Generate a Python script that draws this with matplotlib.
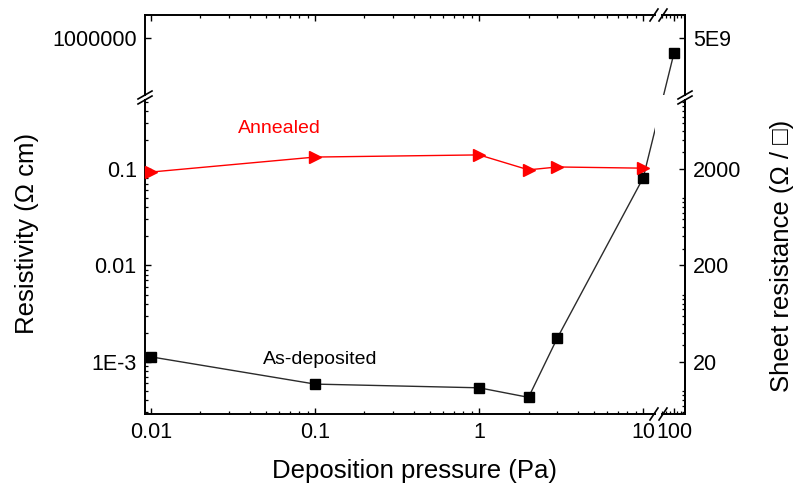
import numpy as np
import matplotlib
matplotlib.use("Agg")
import matplotlib.pyplot as plt
from matplotlib.lines import Line2D
from matplotlib.ticker import LogLocator, NullLocator, NullFormatter

# ── DATA ──────────────────────────────────────────────────────────────────────

pressure = [0.01, 0.1, 1, 2, 3, 10, 100]                      # Pa
rho_as_dep = [1.13e-3, 5.9e-4, 5.4e-4, 4.3e-4, 1.78e-3, 0.081, 7.0e5]
pressure_ann = [0.01, 0.1, 1, 2, 3, 10]
rho_ann = [0.093, 0.133, 0.14, 0.098, 0.105, 0.102]

x_ticks_main = [0.01, 0.1, 1, 10]
x_labels_main = ["0.01", "0.1", "1", "10"]
x_ticks_far = [100]
x_labels_far = ["100"]
y_ticks_low = [1e-3, 1e-2, 1e-1]
y_labels_low = ["1E-3", "0.01", "0.1"]
y_ticks_high = [1e6]
y_labels_high = ["1000000"]
rs_ticks_low = [20, 200, 2000]
rs_labels_low = ["20", "200", "2000"]
rs_ticks_high = [5e9]
rs_labels_high = ["5E9"]

RS_LOW = 2e4    # sheet resistance / resistivity (lower part)
RS_HIGH = 5e3   # same ratio as printed on the upper part

# ── STYLE ─────────────────────────────────────────────────────────────────────

plt.rcParams['font.family'] = ['Liberation Sans', 'DejaVu Sans']
plt.rcParams.update({
    'xtick.direction': 'in', 'ytick.direction': 'in',
    'xtick.major.size': 4.5, 'ytick.major.size': 4.5,
    'xtick.minor.size': 2.5, 'ytick.minor.size': 2.5,
    'xtick.major.width': 1.0, 'ytick.major.width': 1.0,
    'xtick.minor.width': 0.9, 'ytick.minor.width': 0.9,
    'axes.linewidth': 1.4,
    'xtick.labelsize': 15.5, 'ytick.labelsize': 15.5,
    'xtick.major.pad': 6, 'ytick.major.pad': 6,
})

W, H = 797, 492
fig = plt.figure(figsize=(W / 100, H / 100), dpi=100)


def box(x0, x1, ytop, ybot):
    return [x0 / W, 1 - ybot / H, (x1 - x0) / W, (ybot - ytop) / H]


def log_minor(axis, subs=np.arange(2, 10)):
    axis.set_minor_locator(LogLocator(base=10, subs=subs, numticks=20))
    axis.set_minor_formatter(NullFormatter())


ax_ll = fig.add_axes(box(145, 655, 100, 414))
ax_lr = fig.add_axes(box(662, 685, 100, 414))
ax_tl = fig.add_axes(box(145, 655, 15, 95))
ax_tr = fig.add_axes(box(662, 685, 15, 95))

for ax in (ax_ll, ax_lr, ax_tl, ax_tr):
    ax.set_xscale('log')
    ax.set_yscale('log')
    ax.set_facecolor('none')

xlim_main = (0.00919, 11.8)
xlim_far = (84.5, 116.7)
ylim_low = (2.89e-4, 0.519)
ylim_high = (2.57e5, 1.73e6)

ax_ll.set_xlim(*xlim_main); ax_ll.set_ylim(*ylim_low)
ax_tl.set_xlim(*xlim_main); ax_tl.set_ylim(*ylim_high)
ax_lr.set_xlim(*xlim_far); ax_lr.set_ylim(*ylim_low)
ax_tr.set_xlim(*xlim_far); ax_tr.set_ylim(*ylim_high)

ax_ll.spines[['top', 'right']].set_visible(False)
ax_lr.spines[['top', 'left']].set_visible(False)
ax_tl.spines[['bottom', 'right']].set_visible(False)
ax_tr.spines[['bottom', 'left']].set_visible(False)

# lower left
ax_ll.set_xticks(x_ticks_main, labels=x_labels_main)
log_minor(ax_ll.xaxis)
ax_ll.set_yticks(y_ticks_low, labels=y_labels_low)
log_minor(ax_ll.yaxis)
ax_ll.tick_params(which='both', top=False, right=False)

# upper left
ax_tl.xaxis.set_ticks_position('top')
ax_tl.set_xticks(x_ticks_main)
log_minor(ax_tl.xaxis)
ax_tl.tick_params(which='both', labeltop=False, labelbottom=False, bottom=False)
ax_tl.set_yticks(y_ticks_high, labels=y_labels_high)
ax_tl.yaxis.set_minor_locator(NullLocator())
ax_tl.tick_params(which='both', right=False)

# lower right
ax_lr.set_xticks(x_ticks_far, labels=x_labels_far)
log_minor(ax_lr.xaxis)
ax_lr.tick_params(which='both', top=False)
ax_lr.yaxis.set_major_locator(NullLocator())
ax_lr.yaxis.set_minor_locator(NullLocator())
sec_low = ax_lr.secondary_yaxis('right', functions=(lambda y: y * RS_LOW, lambda y: y / RS_LOW))
sec_low.set_yticks(rs_ticks_low, labels=rs_labels_low)
log_minor(sec_low.yaxis, subs=np.arange(1, 10))
sec_low.tick_params(which='both', direction='in')

# upper right
ax_tr.xaxis.set_ticks_position('top')
ax_tr.set_xticks(x_ticks_far)
log_minor(ax_tr.xaxis)
ax_tr.tick_params(which='both', labeltop=False, labelbottom=False, bottom=False)
ax_tr.yaxis.set_major_locator(NullLocator())
ax_tr.yaxis.set_minor_locator(NullLocator())
sec_high = ax_tr.secondary_yaxis('right', functions=(lambda y: y * RS_HIGH, lambda y: y / RS_HIGH))
sec_high.set_yticks(rs_ticks_high, labels=rs_labels_high)
sec_high.yaxis.set_minor_locator(NullLocator())
sec_high.tick_params(which='both', direction='in')

# ── DATA MARKS ────────────────────────────────────────────────────────────────

line_col = '#2b2b2b'
ax_ll.plot(pressure[:-1], rho_as_dep[:-1], color=line_col, lw=1.0,
           marker='s', ms=6.5, mfc='black', mec='black', clip_on=False, zorder=3)
ax_ll.plot(pressure_ann, rho_ann, color='red', lw=1.0,
           marker='>', ms=8.5, mfc='red', mec='red', clip_on=False, zorder=4)
ax_tr.plot(pressure[-1:], rho_as_dep[-1:], 's', color='black', ms=6.5, clip_on=False, zorder=3)

# segment 10 Pa -> 100 Pa crosses the breaks: one straight line on screen,
# drawn in both panels so each panel clips its own piece
p_a = ax_ll.transData.transform((pressure[-2], rho_as_dep[-2]))
p_b = ax_tr.transData.transform((pressure[-1], rho_as_dep[-1]))
b_in_ll = ax_ll.transData.inverted().transform(p_b)
a_in_tr = ax_tr.transData.inverted().transform(p_a)
ax_ll.plot([pressure[-2], b_in_ll[0]], [rho_as_dep[-2], b_in_ll[1]], color=line_col, lw=1.0, zorder=2)
ax_tr.plot([a_in_tr[0], pressure[-1]], [a_in_tr[1], rho_as_dep[-1]], color=line_col, lw=1.0, zorder=2)

ax_ll.text(0.061, 0.266, "Annealed", color='red', fontsize=14, ha='center', va='center')
ax_ll.text(0.107, 1.05e-3, "As-deposited", color='black', fontsize=14, ha='center', va='center')

# ── LABELS ────────────────────────────────────────────────────────────────────

fig.text(415 / W, 1 - 471 / H, "Deposition pressure (Pa)", ha='center', va='center', fontsize=18.5)
fig.text(27 / W, 1 - 233 / H, "Resistivity (Ω cm)", rotation=90, ha='center', va='center', fontsize=18.5)
fig.text(782 / W, 1 - 256 / H, "Sheet resistance (Ω / □)", rotation=90, ha='center', va='center',
         fontsize=18.5)

# ── BREAK MARKS ───────────────────────────────────────────────────────────────


def brk_v(xs, yg):
    for dy in (-2.5, 2.5):
        fig.add_artist(Line2D([(xs - 7) / W, (xs + 7) / W],
                              [1 - (yg + dy + 4) / H, 1 - (yg + dy - 4) / H],
                              color='black', lw=1.2))


def brk_h(xg, ys):
    for dx in (-4.5, 4.5):
        fig.add_artist(Line2D([(xg + dx - 4) / W, (xg + dx + 4) / W],
                              [1 - (ys + 6) / H, 1 - (ys - 6) / H],
                              color='black', lw=1.2))


brk_v(145, 97.5)
brk_v(685, 97.5)
brk_h(658.5, 15)
brk_h(658.5, 414)

fig.savefig("out.png", dpi=100)
